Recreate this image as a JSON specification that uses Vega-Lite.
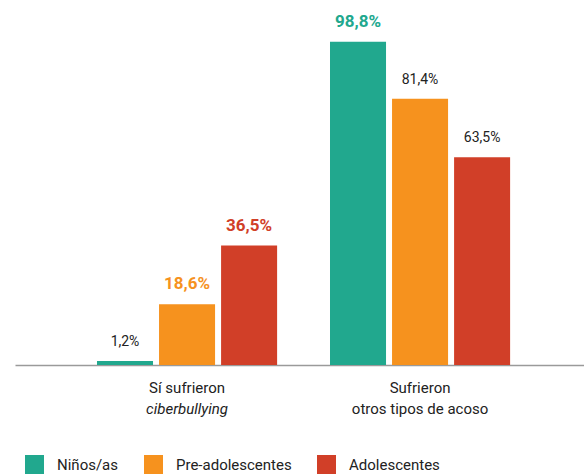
{
  "$schema": "https://vega.github.io/schema/vega-lite/v6.json",
  "width": 569,
  "height": 365,
  "autosize": {"type": "none"},
  "padding": {"left": 15, "top": 0, "right": 0, "bottom": 110},
  "background": "white",
  "config": {"view": {"stroke": null}, "font": "Roboto"},
  "data": {
    "values": [
      {"situacion": "Sí sufrieron ciberbullying", "grupo": "Niños/as", "valor": 1.2, "etiqueta": "1,2%"},
      {"situacion": "Sí sufrieron ciberbullying", "grupo": "Pre-adolescentes", "valor": 18.6, "etiqueta": "18,6%"},
      {"situacion": "Sí sufrieron ciberbullying", "grupo": "Adolescentes", "valor": 36.5, "etiqueta": "36,5%"},
      {"situacion": "Sufrieron otros tipos de acoso", "grupo": "Niños/as", "valor": 98.8, "etiqueta": "98,8%"},
      {"situacion": "Sufrieron otros tipos de acoso", "grupo": "Pre-adolescentes", "valor": 81.4, "etiqueta": "81,4%"},
      {"situacion": "Sufrieron otros tipos de acoso", "grupo": "Adolescentes", "valor": 63.5, "etiqueta": "63,5%"}
    ]
  },
  "layer": [
    {
      "mark": {"type": "bar"},
      "encoding": {
        "x": {
          "field": "situacion", "type": "nominal",
          "scale": {"domain": ["Sí sufrieron ciberbullying", "Sufrieron otros tipos de acoso"], "paddingInner": 0.227, "paddingOuter": 0.3345, "align": 0.526},
          "axis": {
            "title": null, "labelAngle": 0, "orient": "bottom",
            "labelExpr": "datum.value == 'Sí sufrieron ciberbullying' ? 'Sí sufrieron' : 'Sufrieron'",
            "domainColor": "#9a9a9a", "domainWidth": 1.5, "ticks": false,
            "labelFontSize": 15, "labelColor": "#222222", "labelPadding": 15
          }
        },
        "xOffset": {"field": "grupo", "type": "nominal", "scale": {"domain": ["Niños/as", "Pre-adolescentes", "Adolescentes"], "paddingInner": 0.097, "paddingOuter": 0}},
        "y": {"field": "valor", "type": "quantitative", "scale": {"domain": [0, 111.6], "nice": false, "zero": true}, "axis": null},
        "color": {
          "field": "grupo", "type": "nominal",
          "scale": {"domain": ["Niños/as", "Pre-adolescentes", "Adolescentes"], "range": ["#21a88e", "#f6921e", "#d13f28"]},
          "legend": {
            "orient": "none", "legendX": 10, "legendY": 455, "direction": "horizontal", "columns": 3,
            "title": null, "symbolType": "square", "symbolSize": 361, "symbolStrokeWidth": 0, "symbolOpacity": 1,
            "labelFontSize": 15, "labelOffset": 13, "columnPadding": 25, "labelColor": "#222222", "padding": 0, "labelLimit": 300
          }
        }
      }
    },
    {
      "transform": [{"filter": "datum.valor == 98.8 || datum.valor == 18.6 || datum.valor == 36.5"}],
      "mark": {"type": "text", "dy": -15, "baseline": "alphabetic", "align": "center", "fontSize": 17, "fontWeight": "bold"},
      "encoding": {
        "x": {"field": "situacion", "type": "nominal", "axis": null},
        "xOffset": {"field": "grupo", "type": "nominal"},
        "y": {"field": "valor", "type": "quantitative", "scale": {"domain": [0, 111.6], "nice": false, "zero": true}, "axis": null},
        "text": {"field": "etiqueta", "type": "nominal"},
        "color": {"field": "grupo", "type": "nominal", "legend": null}
      }
    },
    {
      "transform": [{"filter": "!(datum.valor == 98.8 || datum.valor == 18.6 || datum.valor == 36.5)"}],
      "mark": {"type": "text", "dy": -15, "baseline": "alphabetic", "align": "center", "fontSize": 14, "color": "#222222"},
      "encoding": {
        "x": {
          "field": "situacion", "type": "nominal",
          "axis": {
            "title": null, "labelAngle": 0, "domain": false, "ticks": false, "orient": "bottom",
            "labelExpr": "datum.value == 'Sí sufrieron ciberbullying' ? 'ciberbullying' : 'otros tipos de acoso'",
            "labelFontStyle": {"condition": {"test": "datum.value == 'Sí sufrieron ciberbullying'", "value": "italic"}, "value": "normal"},
            "labelFontSize": 15, "labelColor": "#222222", "labelPadding": 36
          }
        },
        "xOffset": {"field": "grupo", "type": "nominal"},
        "y": {"field": "valor", "type": "quantitative", "scale": {"domain": [0, 111.6], "nice": false, "zero": true}, "axis": null},
        "text": {"field": "etiqueta", "type": "nominal"}
      }
    }
  ],
  "resolve": {"axis": {"x": "independent"}}
}
